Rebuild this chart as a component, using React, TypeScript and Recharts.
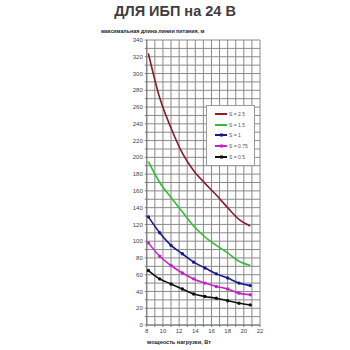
import React from 'react';
import { LineChart, Line, XAxis, YAxis, CartesianGrid, Legend } from 'recharts';

const loads = [8.2, 9.6, 11.0, 12.4, 13.8, 15.2, 16.6, 18.0, 19.4, 20.8];
const s25 = [324, 271, 235, 205, 184, 169, 155, 140, 126, 118];
const s15 = [195, 170, 152, 135, 118, 105, 95, 86, 76, 71];
const s1 = [129, 110, 95, 85, 75, 68, 61, 56, 50, 47];
const s075 = [98, 82, 71, 62, 55, 50, 46, 43, 38, 36];
const s05 = [65, 55, 49, 43, 37, 34, 32, 29, 26, 24];

const xTicks = [8, 9, 10, 11, 12, 13, 14, 15, 16, 17, 18, 19, 20, 21, 22];
const yTicks = [0, 10, 20, 30, 40, 50, 60, 70, 80, 90, 100, 110, 120, 130, 140, 150, 160, 170,
  180, 190, 200, 210, 220, 230, 240, 250, 260, 270, 280, 290, 300, 310, 320, 330, 340];

const series = [
  { key: 's25', name: 'S = 2.5', color: '#8b1c24', dot: false },
  { key: 's15', name: 'S = 1.5', color: '#2fbf2f', dot: false },
  { key: 's1', name: 'S = 1', color: '#141a8c', dot: true },
  { key: 's075', name: 'S = 0.75', color: '#c81fc8', dot: true },
  { key: 's05', name: 'S = 0.5', color: '#111111', dot: true },
];

const data = loads.map((x, i) => ({
  x,
  s25: s25[i],
  s15: s15[i],
  s1: s1[i],
  s075: s075[i],
  s05: s05[i],
}));

const font = '"Liberation Sans", Arial, sans-serif';

const LegendBox = () => (
  <div style={{ background: '#fff', border: '1px solid #999', padding: '3px 6px 3px 8px', fontFamily: font, fontSize: 5 }}>
    {series.map((s) => (
      <div key={s.key} style={{ display: 'flex', alignItems: 'center', height: 10.6 }}>
        <svg width={12} height={4} style={{ marginRight: 2 }}>
          <line x1={0} y1={2} x2={12} y2={2} stroke={s.color} strokeWidth={2} />
          {s.dot && <rect x={5} y={0.5} width={3} height={3} fill={s.color} />}
        </svg>
        <span style={{ color: '#555' }}>{s.name}</span>
      </div>
    ))}
  </div>
);

export default function App() {
  return (
    <div style={{ position: 'absolute', left: 0, top: 0, width: 350, height: 350, background: '#fff' }}>
      <div style={{ position: 'absolute', left: 0, width: 350, top: 3, textAlign: 'center', fontFamily: font, fontWeight: 'bold', fontSize: 14.5, color: '#3d3d3d' }}>
        ДЛЯ ИБП на 24 В
      </div>
      <div style={{ position: 'absolute', left: 101, top: 28, fontFamily: font, fontWeight: 'bold', fontSize: 5.3, color: '#222' }}>
        максимальная длина линии питания, м
      </div>
      <div style={{ position: 'absolute', left: 98, width: 162, top: 339, textAlign: 'center', fontFamily: font, fontWeight: 'bold', fontSize: 5.6, color: '#222' }}>
        мощность нагрузки, Вт
      </div>
      <LineChart width={350} height={350} data={data} margin={{ top: 40, right: 90, bottom: 13, left: 78 }}>
        <CartesianGrid stroke="#8a8a8a" strokeWidth={1} />
        <XAxis
          dataKey="x"
          type="number"
          domain={[8, 22]}
          ticks={xTicks}
          interval={0}
          tickFormatter={(v: number) => (v % 2 === 0 ? String(v) : '')}
          tick={{ fontSize: 6, fill: '#444', fontFamily: font }}
          tickSize={2}
          stroke="#777"
          height={12}
        />
        <YAxis
          type="number"
          domain={[0, 340]}
          ticks={yTicks}
          interval={0}
          tickFormatter={(v: number) => (v % 20 === 0 ? String(v) : '')}
          tick={{ fontSize: 6, fill: '#444', fontFamily: font }}
          tickSize={2}
          stroke="#777"
          width={20}
        />
        <Legend
          layout="vertical"
          verticalAlign="top"
          align="left"
          wrapperStyle={{ left: 206, top: 105, width: 'auto' }}
          content={() => <LegendBox />}
        />
        {series.map((s) => (
          <Line
            key={s.key}
            type="monotone"
            dataKey={s.key}
            name={s.name}
            stroke={s.color}
            strokeWidth={1.6}
            dot={s.dot ? { r: 0.9, fill: s.color, stroke: s.color } : false}
            isAnimationActive={false}
          />
        ))}
      </LineChart>
    </div>
  );
}
